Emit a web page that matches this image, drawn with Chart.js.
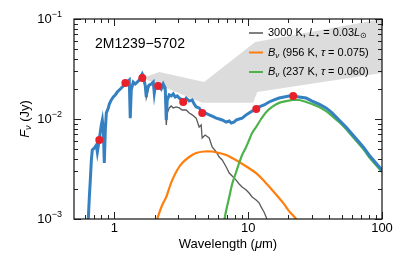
<!DOCTYPE html>
<html>
<head>
<meta charset="UTF-8">
<title>2M1239-5702 SED</title>
<script src="https://cdn.jsdelivr.net/npm/chart.js"></script>
<style>
    body { margin: 0; background: #fff; }
    #wrap { width: 411px; height: 261px; }
</style>
</head>
<body>
<div id="wrap"><canvas id="sed" width="411" height="261"></canvas></div>
<script>
// total model (star + two blackbodies)
const modelWave = [0.618,0.640,0.651,0.662,0.674,0.685,0.709,0.734,0.747,0.773,0.800,0.814,0.828,0.842,0.857,0.872,0.902,0.918,0.950,0.983,1.017,1.053,1.090,1.128,1.167,1.208,1.250,1.294,1.316,1.339,1.386,1.434,1.484,1.537,1.590,1.618,1.646,1.704,1.733,1.763,1.825,1.889,1.955,1.989,2.023,2.094,2.167,2.243,2.321,2.402,2.444,2.487,2.573,2.663,2.756,2.852,2.952,3.055,3.216,3.329,3.445,3.627,3.818,3.951,4.089,4.305,4.532,4.771,5.116,5.386,5.775,6.080,6.400,6.862,7.224,7.477,7.870,8.136,8.565,9.017,9.661,10.17,10.71,11.47,12.08,13.16,14.34,15.63,17.03,18.56,20.22,21.68,24.02,27.10,30.05,33.88,38.22,42.36,47.76,53.85,59.70,67.32,73.40,79.98,88.7,100];
const modelFlux = [0.00085,0.00102,0.00166,0.00245,0.00389,0.0049,0.00513,0.0055,0.00468,0.00631,0.00871,0.00977,0.00776,0.00363,0.00776,0.0115,0.0129,0.0141,0.0155,0.0166,0.0174,0.0186,0.0195,0.0204,0.0214,0.0224,0.0234,0.0245,0.0102,0.0195,0.0234,0.0224,0.0234,0.0245,0.0269,0.0282,0.0269,0.0214,0.0166,0.0204,0.0219,0.0224,0.0234,0.0182,0.0214,0.0224,0.0214,0.0200,0.0224,0.0204,0.00977,0.0155,0.0174,0.0170,0.0178,0.0166,0.0170,0.0162,0.0155,0.0151,0.0162,0.0151,0.0155,0.0141,0.0132,0.0129,0.0117,0.0115,0.0110,0.0107,0.0102,0.0100,0.00977,0.00933,0.00955,0.00912,0.00933,0.00977,0.0100,0.0102,0.0110,0.0115,0.0120,0.0126,0.0132,0.0138,0.0148,0.0155,0.0162,0.0166,0.0170,0.0170,0.0166,0.0162,0.0151,0.0141,0.0129,0.0115,0.00977,0.00832,0.00708,0.00589,0.00513,0.00437,0.00372,0.00309];

// 3000 K photosphere
const starWave = [1.537,1.618,1.704,1.733,1.825,1.955,1.989,2.094,2.243,2.321,2.402,2.444,2.487,2.573,2.663,2.756,2.902,3.055,3.216,3.445,3.627,3.818,4.089,4.305,4.457,4.532,4.771,5.116,5.386,5.775,6.080,6.400,6.862,7.224,7.597,8.136,8.565,9.017,9.661,10.17,10.71,11.47,12.08,12.50,13.16,13.62,14.10];
const starFlux = [0.0240,0.0275,0.0209,0.0162,0.0214,0.0229,0.0178,0.0219,0.0195,0.0214,0.0186,0.00871,0.0115,0.0129,0.0135,0.0129,0.0132,0.0129,0.0123,0.0123,0.0115,0.0110,0.0102,0.00832,0.00871,0.00646,0.00692,0.00646,0.00525,0.00468,0.00417,0.00389,0.00331,0.00288,0.00269,0.00245,0.00224,0.00209,0.00195,0.00182,0.00166,0.00155,0.00145,0.00132,0.00117,0.00105,0.00089];

// 956 K blackbody
const hotWave = [2.094,2.167,2.281,2.444,2.573,2.709,2.952,3.216,3.627,4.089,4.69,5.386,6.080,6.862,7.597,8.565,9.83,11.47,13.16,15.10,17.03,18.56,20.22,22.82,23.6];
const hotFlux = [0.00100,0.00115,0.00138,0.00166,0.00204,0.00245,0.00309,0.00363,0.00417,0.00457,0.00473,0.00473,0.00457,0.00437,0.00407,0.00372,0.00331,0.00288,0.00240,0.00195,0.00162,0.00141,0.00120,0.00100,0.00093];

// 237 K blackbody
const coldWave = [6.62,6.862,7.224,7.597,8.136,8.565,9.017,9.661,10.17,10.71,11.47,12.50,13.62,15.10,17.03,19.21,21.68,24.02,27.10,30.05,33.88,38.22,42.36,47.76,53.85,59.70,67.32,73.40,79.98,88.7,100];
const coldFlux = [0.000955,0.00123,0.00166,0.00224,0.00295,0.00363,0.00437,0.00525,0.00617,0.00724,0.00832,0.0100,0.0117,0.0132,0.0145,0.0151,0.0155,0.0155,0.0148,0.0141,0.0132,0.0120,0.0107,0.00933,0.00794,0.00676,0.00562,0.00490,0.00417,0.00355,0.00295];

// photometry
const photWave = [0.773,1.21,1.62,2.13,3.27,4.54,11.5,21.7];
const photFlux = [0.00617,0.0229,0.0257,0.0214,0.0148,0.0115,0.0126,0.0170];

// grey band (outline, clockwise)
const shadeWave = [1.70,2.17,4.69,11.3,100,100,11.7,10.9,4.53,1.76];
const shadeFlux = [0.0263,0.0295,0.0234,0.0589,0.1,0.0288,0.0186,0.0145,0.0145,0.0245];

// axes
const xTicks = [1, 10, 100];
const xTickLabels = ['1', '10', '100'];
const yTicks = [0.001, 0.01, 0.1];
const yTickExp = ['\u22123', '\u22122', '\u22121'];

const FONT = '"Liberation Sans", Arial, sans-serif';
const pts = (w, f) => w.map((v, i) => ({ x: v, y: f[i] }));

function rich(ctx, parts, x, y, align) {
    // parts: [text, size, italic, dy]
    const setFont = p => ctx.font = (p[2] ? 'italic ' : '') + p[1] + 'px ' + FONT;
    let w = 0;
    parts.forEach(p => { setFont(p); w += ctx.measureText(p[0]).width; });
    let cx = align === 'right' ? x - w : align === 'center' ? x - w / 2 : x;
    parts.forEach(p => {
        setFont(p);
        ctx.fillText(p[0], cx, y + (p[3] || 0));
        cx += ctx.measureText(p[0]).width;
    });
}

const axesPlugin = {
    id: 'axesPlugin',
    afterDraw(chart) {
        const ctx = chart.ctx;
        const a = chart.chartArea;
        const x = chart.scales.x, y = chart.scales.y;
        ctx.save();

        // ticks, pointing inwards on all four sides
        ctx.strokeStyle = '#222';
        ctx.lineWidth = 1;
        ctx.beginPath();
        const xt = (v, len) => {
            const p = Math.round(x.getPixelForValue(v)) + 0.5;
            ctx.moveTo(p, a.bottom); ctx.lineTo(p, a.bottom - len);
            ctx.moveTo(p, a.top); ctx.lineTo(p, a.top + len);
        };
        const yt = (v, len) => {
            const p = Math.round(y.getPixelForValue(v)) + 0.5;
            ctx.moveTo(a.left, p); ctx.lineTo(a.left + len, p);
            ctx.moveTo(a.right, p); ctx.lineTo(a.right - len, p);
        };
        [0.1, 1, 10].forEach(d => { for (let k = 2; k <= 9; k++) if (k * d > 0.5) xt(k * d, 4); });
        xTicks.forEach(v => xt(v, 7));
        [0.001, 0.01].forEach(d => { for (let k = 2; k <= 9; k++) yt(k * d, 4); });
        yTicks.forEach(v => yt(v, 7));
        ctx.stroke();

        // frame
        ctx.lineWidth = 1.2;
        ctx.strokeStyle = '#111';
        ctx.strokeRect(a.left, a.top, a.right - a.left, a.bottom - a.top);

        ctx.fillStyle = '#000';
        ctx.textBaseline = 'middle';

        // tick labels
        ctx.textAlign = 'center';
        ctx.font = '13px ' + FONT;
        xTicks.forEach((v, i) => ctx.fillText(xTickLabels[i], x.getPixelForValue(v), a.bottom + 9));
        ctx.textAlign = 'left';
        yTicks.forEach((v, i) => {
            rich(ctx, [['10', 13], [yTickExp[i], 9, false, -4.5]], a.left - 12, y.getPixelForValue(v) + 0.5, 'right');
        });

        // axis titles
        rich(ctx, [['Wavelength (', 13], ['\u03bc', 13, true], ['m)', 13]], (a.left + a.right) / 2, 244, 'center');
        ctx.save();
        ctx.translate(25, (a.top + a.bottom) / 2);
        ctx.rotate(-Math.PI / 2);
        rich(ctx, [['F', 13, true], ['\u03bd', 9, true, 3], [' (Jy)', 13]], 0, 0, 'center');
        ctx.restore();

        // object name
        rich(ctx, [['2M1239\u22125702', 14]], 95, 44, 'left');

        // legend
        const rows = [
            { color: '#555555', w: 1.5, parts: [['3000 K, ', 11], ['L', 11, true], ['\u22c6', 8, false, 3], [' = 0.03', 11], ['L', 11, true], ['\u2299', 8, false, 3]] },
            { color: '#ff7f0e', w: 2, parts: [['B', 11, true], ['\u03bd', 8, true, 3], [' (956 K, ', 11], ['\u03c4', 11, true], [' = 0.075)', 11]] },
            { color: '#4cb34a', w: 2, parts: [['B', 11, true], ['\u03bd', 8, true, 3], [' (237 K, ', 11], ['\u03c4', 11, true], [' = 0.060)', 11]] }
        ];
        rows.forEach((r, i) => {
            const ry = 33 + i * 19.5;
            ctx.strokeStyle = r.color;
            ctx.lineWidth = r.w;
            ctx.beginPath();
            ctx.moveTo(249, ry); ctx.lineTo(263, ry);
            ctx.stroke();
            rich(ctx, r.parts, 268, ry, 'left');
        });

        ctx.restore();
    }
};

new Chart(document.getElementById('sed'), {
    type: 'scatter',
    data: {
        datasets: [
            { label: 'photometry', data: pts(photWave, photFlux), showLine: false,
              pointRadius: 4, pointBackgroundColor: '#e8202a', pointBorderWidth: 0, order: 0 },
            { label: 'model', data: pts(modelWave, modelFlux), showLine: true, borderColor: '#3480c1',
              borderWidth: 3, pointRadius: 0, tension: 0, order: 1 },
            { label: '237 K', data: pts(coldWave, coldFlux), showLine: true, borderColor: '#4cb34a',
              borderWidth: 2.2, pointRadius: 0, tension: 0.3, order: 2 },
            { label: '956 K', data: pts(hotWave, hotFlux), showLine: true, borderColor: '#ff7f0e',
              borderWidth: 2.2, pointRadius: 0, tension: 0.3, order: 3 },
            { label: '3000 K', data: pts(starWave, starFlux), showLine: true, borderColor: '#5a5a5a',
              borderWidth: 1.3, pointRadius: 0, tension: 0, order: 4 },
            { label: 'band', data: pts(shadeWave, shadeFlux), showLine: true, borderColor: 'rgba(0,0,0,0)',
              backgroundColor: '#dcdcdc', fill: 'shape', pointRadius: 0, tension: 0, order: 5 }
        ]
    },
    options: {
        responsive: false,
        animation: false,
        layout: { padding: { left: 74, right: 29, top: 19, bottom: 42 } },
        plugins: { legend: { display: false }, tooltip: { enabled: false } },
        scales: {
            x: { type: 'logarithmic', min: 0.5, max: 100, display: false },
            y: { type: 'logarithmic', min: 0.001, max: 0.1, display: false }
        }
    },
    plugins: [axesPlugin]
});
</script>
</body>
</html>
